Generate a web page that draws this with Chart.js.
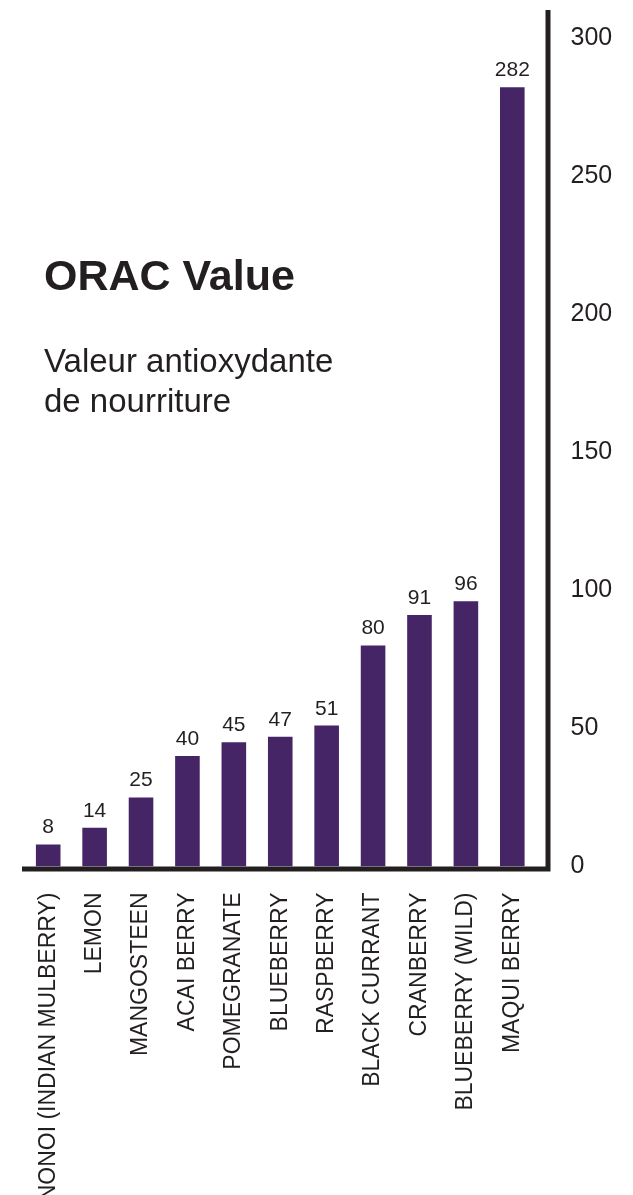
<!DOCTYPE html>
<html lang="fr">
<head>
    <meta charset="UTF-8">
    <title>ORAC Value</title>
    <script src="https://cdn.jsdelivr.net/npm/chart.js@4.4.0/dist/chart.umd.min.js"></script>
    <style>
        html, body { margin: 0; padding: 0; background: #fff; }
        #wrap { position: relative; width: 633px; height: 1195px; overflow: hidden; }
        #wrap canvas { position: absolute; left: 0; top: 0; }
        .title { position: absolute; left: 44px; top: 254px; font: bold 43px "Liberation Sans", Arial, sans-serif; line-height: 1; color: #231f20; }
        .subtitle { position: absolute; left: 44px; top: 341px; font: 33px "Liberation Sans", Arial, sans-serif; line-height: 40px; color: #231f20; }
    </style>
</head>
<body>
    <div id="wrap">
        <canvas id="oracChart" width="633" height="1195"></canvas>
        <div class="title">ORAC Value</div>
        <div class="subtitle">Valeur antioxydante<br>de nourriture</div>
    </div>

    <script>
        // values
        const foods = ['NONOI (INDIAN MULBERRY)', 'LEMON', 'MANGOSTEEN', 'ACAI BERRY', 'POMEGRANATE',
            'BLUEBERRY', 'RASPBERRY', 'BLACK CURRANT', 'CRANBERRY', 'BLUEBERRY (WILD)', 'MAQUI BERRY'];
        const oracValues = [8, 14, 25, 40, 45, 47, 51, 80, 91, 96, 282];
        const yTicks = [0, 50, 100, 150, 200, 250, 300];

        const ink = '#231f20';
        const barColor = '#452566';

        // value labels above bars + the heavy axis lines
        const decorPlugin = {
            id: 'decor',
            afterDatasetsDraw(chart) {
                const ctx = chart.ctx;
                const area = chart.chartArea;
                const yScale = chart.scales.y;
                const zeroY = yScale.getPixelForValue(0);
                const axisX = area.right + 12.5;

                ctx.save();
                ctx.fillStyle = ink;
                ctx.font = '21px "Liberation Sans", Arial, sans-serif';
                ctx.textAlign = 'center';
                ctx.textBaseline = 'alphabetic';
                chart.getDatasetMeta(0).data.forEach((bar, i) => {
                    ctx.fillText(String(oracValues[i]), bar.x, bar.y - 11);
                });

                ctx.strokeStyle = ink;
                ctx.lineWidth = 5;
                ctx.beginPath();
                ctx.moveTo(area.left - 3, zeroY + 2.5);
                ctx.lineTo(axisX + 2.5, zeroY + 2.5);
                ctx.moveTo(axisX, area.top);
                ctx.lineTo(axisX, zeroY + 5);
                ctx.stroke();
                ctx.restore();
            }
        };

        new Chart(document.getElementById('oracChart').getContext('2d'), {
            type: 'bar',
            data: {
                labels: foods,
                datasets: [{
                    data: oracValues,
                    backgroundColor: barColor,
                    barPercentage: 0.53,
                    categoryPercentage: 1.0
                }]
            },
            options: {
                responsive: false,
                animation: false,
                layout: { autoPadding: false, padding: { left: 25, top: 10, right: 0, bottom: 0 } },
                plugins: {
                    legend: { display: false },
                    tooltip: { enabled: false }
                },
                scales: {
                    x: {
                        offset: true,
                        grid: { display: false, drawTicks: false },
                        border: { display: false },
                        ticks: {
                            color: ink,
                            font: { family: '"Liberation Sans", Arial, sans-serif', size: 23 },
                            minRotation: 90,
                            maxRotation: 90,
                            autoSkip: false,
                            padding: 26
                        },
                        afterFit(scale) {
                            scale.height = 328.5;
                            scale.paddingLeft = 0;
                            scale.paddingRight = 0;
                        }
                    },
                    y: {
                        position: 'right',
                        min: 0,
                        max: 310,
                        grid: { display: false, drawTicks: false },
                        border: { display: false },
                        afterBuildTicks(scale) {
                            scale.ticks = yTicks.map(v => ({ value: v }));
                        },
                        ticks: {
                            color: ink,
                            font: { family: '"Liberation Sans", Arial, sans-serif', size: 25 },
                            padding: 35
                        },
                        afterFit(scale) {
                            scale.width = 97.5;
                            scale.paddingTop = 0;
                            scale.paddingBottom = 0;
                        }
                    }
                }
            },
            plugins: [decorPlugin]
        });
    </script>
</body>
</html>
